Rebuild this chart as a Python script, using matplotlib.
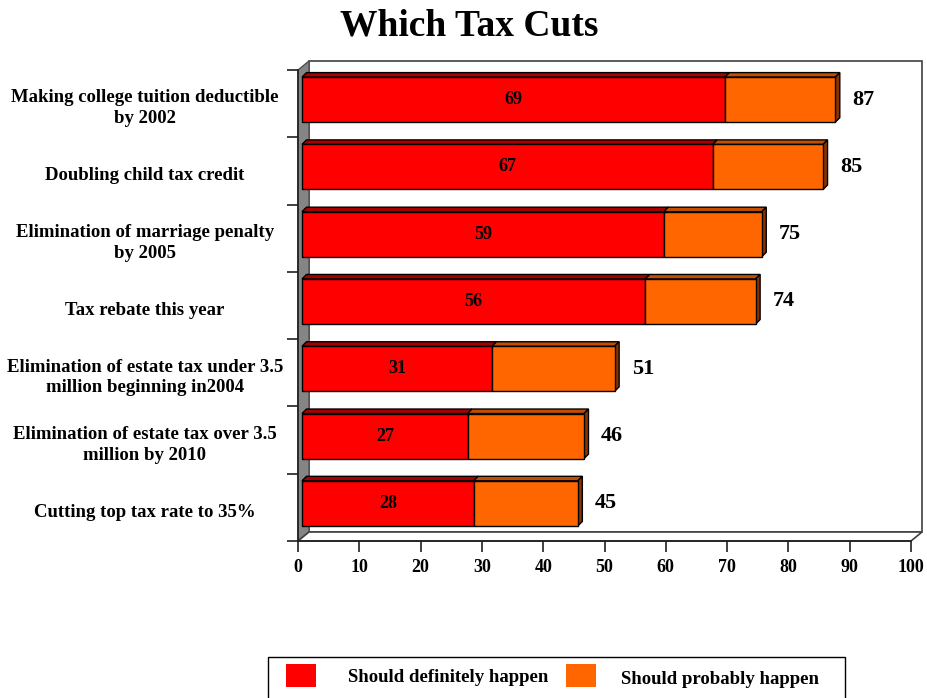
import matplotlib.pyplot as plt
import numpy as np
from matplotlib.patches import Polygon, Rectangle
from matplotlib.transforms import Affine2D, ScaledTranslation, blended_transform_factory

plt.rcParams['font.family'] = ['Liberation Serif', 'DejaVu Serif']
plt.rcParams['font.weight'] = 'bold'

categories = [
    "Making college tuition deductible\nby 2002",
    "Doubling child tax credit",
    "Elimination of marriage penalty\nby 2005",
    "Tax rebate this year",
    "Elimination of estate tax under 3.5\nmillion beginning in2004",
    "Elimination of estate tax over 3.5\nmillion by 2010",
    "Cutting top tax rate to 35%",
]
definitely = [69, 67, 59, 56, 31, 27, 28]
totals = [87, 85, 75, 74, 51, 46, 45]
probably = [t - d for t, d in zip(totals, definitely)]
xticks = list(range(0, 101, 10))

RED, RED_TOP = '#FF0000', '#A80000'
ORANGE, ORANGE_TOP, ORANGE_SIDE = '#FF6600', '#C24E00', '#8A3300'

W, H = 927, 698
fig = plt.figure(figsize=(W / 100, H / 100), dpi=100)

# front plane of the plot box, in pixels (top-left origin)
x0, x1, y_top, y_bot = 298, 911, 70, 541
wall_dx, wall_dy = 11, 9
ax = fig.add_axes([x0 / W, 1 - y_bot / H, (x1 - x0) / W, (y_bot - y_top) / H])
ax.set_facecolor('none')
n = len(categories)
ax.set_xlim(0, 100)
ax.set_ylim(n - 0.5, -0.5)

# pixel transform for the box decorations
px = Affine2D().scale(1 / W, -1 / H).translate(0, 1) + fig.transFigure

back = Rectangle((x0 + wall_dx, y_top - wall_dy), x1 - x0, y_bot - y_top,
                 facecolor='white', edgecolor='#404040', lw=1.2,
                 transform=px, clip_on=False, zorder=0)
side = Polygon([(x0, y_top), (x0 + wall_dx, y_top - wall_dy),
                (x0 + wall_dx, y_bot - wall_dy), (x0, y_bot)],
               facecolor='#858585', edgecolor='#505050', lw=1,
               transform=px, clip_on=False, zorder=0.5)
floor = Polygon([(x0, y_bot), (x0 + wall_dx, y_bot - wall_dy),
                 (x1 + wall_dx, y_bot - wall_dy), (x1, y_bot)],
                facecolor='white', edgecolor='#404040', lw=1.2,
                transform=px, clip_on=False, zorder=0.5)
for p in (back, side, floor):
    ax.add_patch(p)

# bars sit a little behind the front plane
shift = ScaledTranslation(4 / 100, 4 / 100, fig.dpi_scale_trans)
tr = ax.transData + shift
y = np.arange(n)
h = 0.67
bars_def = ax.barh(y, definitely, height=h, color=RED, edgecolor='black', lw=1, zorder=3)
bars_prob = ax.barh(y, probably, left=definitely, height=h, color=ORANGE,
                    edgecolor='black', lw=1, zorder=3)
for p in list(bars_def) + list(bars_prob):
    p.set_transform(tr)
    p.set_clip_on(False)

# depth of the bars (4.5 px) in data units
ddx = 4.5 / ((x1 - x0) / 100)
ddy = 4.5 / ((y_bot - y_top) / n)
for i in range(n):
    yt, yb = y[i] - h / 2, y[i] + h / 2
    d, t = definitely[i], totals[i]
    for a, b, c in ((0, d, RED_TOP), (d, t, ORANGE_TOP)):
        ax.add_patch(Polygon([(a, yt), (a + ddx, yt - ddy), (b + ddx, yt - ddy), (b, yt)],
                             facecolor=c, edgecolor='black', lw=1,
                             transform=tr, clip_on=False, zorder=2.5))
    ax.add_patch(Polygon([(t, yt), (t + ddx, yt - ddy), (t + ddx, yb - ddy), (t, yb)],
                         facecolor=ORANGE_SIDE, edgecolor='black', lw=1,
                         transform=tr, clip_on=False, zorder=2.5))
    ax.text(d / 2, y[i], str(d), transform=tr, ha='center', va='center',
            fontsize=13, zorder=4)
    ax.text(t + 2.8, y[i], str(t), transform=tr, ha='left', va='center',
            fontsize=16, zorder=4)

# category labels, centred in the left margin
lab_tr = blended_transform_factory(px, ax.transData)
for i, c in enumerate(categories):
    ax.text(145, y[i] + 0.07, c, transform=lab_tr, ha='center', va='center',
            multialignment='center', fontsize=13.5, linespacing=1.3, clip_on=False)

for s in ('top', 'right'):
    ax.spines[s].set_visible(False)
for s in ('left', 'bottom'):
    ax.spines[s].set_color('#202020')
    ax.spines[s].set_linewidth(1.2)
    ax.spines[s].set_zorder(1)

ax.set_xticks(xticks)
ax.set_xticklabels([str(v) for v in xticks], fontsize=13, fontweight='bold')
ax.set_yticks(np.arange(-0.5, n, 1))
ax.set_yticklabels([])
ax.tick_params(axis='x', direction='out', length=8, width=1.2, pad=5, color='#202020')
ax.tick_params(axis='y', direction='out', length=8, width=1.2, color='#202020')

fig.text(469, 26, 'Which Tax Cuts', transform=px, ha='center', va='center', fontsize=27)

# legend box along the bottom edge
fig.patches.append(Rectangle((268, 657), 577, 60, facecolor='white', edgecolor='black',
                             lw=1, transform=px, figure=fig))
fig.patches.append(Rectangle((286, 664), 30, 23, facecolor=RED, edgecolor='none',
                             transform=px, figure=fig))
fig.patches.append(Rectangle((566, 664), 30, 23, facecolor=ORANGE, edgecolor='none',
                             transform=px, figure=fig))
fig.text(448, 678, 'Should definitely happen', transform=px, ha='center', va='center', fontsize=13.5)
fig.text(720, 680, 'Should probably happen', transform=px, ha='center', va='center', fontsize=13.5)

fig.savefig('out.png', dpi=100)
